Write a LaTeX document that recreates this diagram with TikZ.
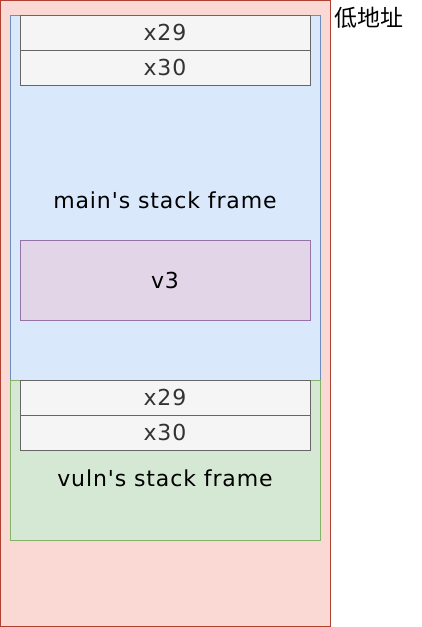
\documentclass[tikz,border=0pt]{standalone}
\usepackage{fontspec}
\setmainfont{DejaVu Sans}[Ligatures=TeXOff,LetterSpace=4]
\newfontfamily\cjk{Noto Sans CJK SC}
\definecolor{redfill}{HTML}{FAD9D5}
\definecolor{redline}{HTML}{AE4132}
\definecolor{bluefill}{HTML}{DAE8FC}
\definecolor{blueline}{HTML}{6C8EBF}
\definecolor{greenfill}{HTML}{D5E8D4}
\definecolor{greenline}{HTML}{82B366}
\definecolor{grayfill}{HTML}{F5F5F5}
\definecolor{grayline}{HTML}{666666}
\definecolor{graytext}{HTML}{333333}
\definecolor{purplefill}{HTML}{E1D5E7}
\definecolor{purpleline}{HTML}{9673A6}
\begin{document}
\begin{tikzpicture}[x=1pt,y=-1pt,line width=0.8pt,
  regbox/.style={draw=grayline,fill=grayfill,text=graytext,font=\fontsize{22}{24}\selectfont,minimum width=290pt,minimum height=35pt,inner sep=0pt},
  lbl/.style={font=\fontsize{22}{24}\selectfont}]
\useasboundingbox (0,0) rectangle (421,627);
\draw[draw=redline,fill=redfill] (0.5,0.5) rectangle (330,626.5);
\draw[draw=blueline,fill=bluefill] (10,15) rectangle (320,380);
\draw[draw=greenline,fill=greenfill] (10,380) rectangle (320,540);
\node[regbox] (mx29) at (165,32.5) {x29};
\node[regbox] (mx30) at (165,67.5) {x30};
\node[lbl] (mainlbl) at (165,200) {main's stack frame};
\node[draw=purpleline,fill=purplefill,minimum width=290pt,minimum height=80pt,inner sep=0pt,lbl] (v3) at (165,280) {v3};
\node[regbox] (vx29) at (165,397.5) {x29};
\node[regbox] (vx30) at (165,432.5) {x30};
\node[lbl] (vulnlbl) at (165,478) {vuln's stack frame};
\node[anchor=west,inner sep=0pt,font=\cjk\fontsize{23}{25}\selectfont] (low) at (334,18) {低地址};
\end{tikzpicture}
\end{document}
